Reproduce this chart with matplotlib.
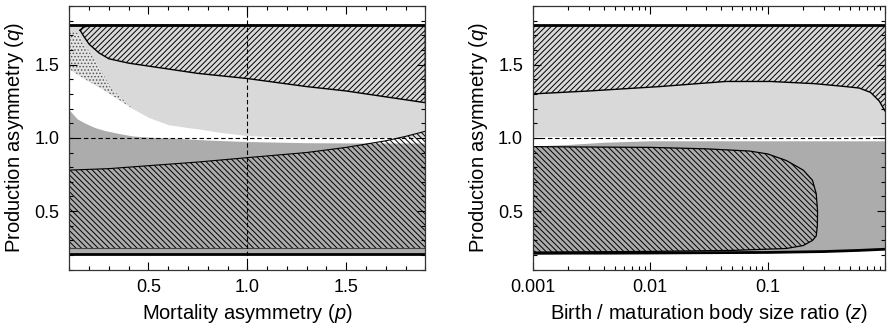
import matplotlib
matplotlib.use("Agg")
import matplotlib.pyplot as plt
from matplotlib.ticker import MultipleLocator, FormatStrFormatter, FixedLocator, FixedFormatter, LogLocator, NullFormatter

plt.rcParams['font.family'] = ['Liberation Sans', 'DejaVu Sans']
plt.rcParams['mathtext.fontset'] = 'custom'
plt.rcParams['mathtext.it'] = 'Liberation Sans:italic'
plt.rcParams['mathtext.rm'] = 'Liberation Sans'
plt.rcParams['hatch.linewidth'] = 0.7

LIGHT = '#d9d9d9'
DARK = '#acacac'

############################################################
# Left panel: mortality asymmetry p

# lower edge of the light grey region
p_light = [0.1, 0.18, 0.26, 0.34, 0.42, 0.5, 0.6, 0.7, 0.76, 0.85, 1.0, 1.15, 1.3, 1.6, 1.9]
q_light_bot = [1.47, 1.40, 1.34, 1.27, 1.20, 1.14, 1.09, 1.07, 1.06, 1.04, 1.015, 1.008, 1.005, 1.005, 1.005]

# upper edge of the dark grey region
p_dark = [0.1, 0.14, 0.18, 0.23, 0.28, 0.35, 0.42, 0.5, 0.6, 0.8, 1.0, 1.3, 1.6, 1.9]
q_dark_top = [1.19, 1.13, 1.10, 1.07, 1.05, 1.03, 1.013, 1.005, 1.0, 0.985, 0.975, 0.967, 0.965, 0.965]

# stippled wedge (right edge, top to bottom)
p_dot_edge = [0.1, 0.13, 0.155, 0.18, 0.245, 0.31, 0.42]
q_dot_edge = [1.72, 1.725, 1.70, 1.63, 1.50, 1.34, 1.20]

# upper hatched region: upper and lower edges from the cusp
p_up_top = [0.155, 0.17, 0.2, 0.25, 1.9]
q_up_top = [1.735, 1.755, 1.765, 1.768, 1.768]
p_up_bot = [0.155, 0.17, 0.2, 0.25, 0.3, 0.4, 0.5, 0.75, 1.0, 1.3, 1.5, 1.7, 1.9]
q_up_bot = [1.735, 1.70, 1.64, 1.58, 1.54, 1.51, 1.49, 1.44, 1.405, 1.35, 1.32, 1.28, 1.24]

# lower hatched region: upper edge
p_low = [0.1, 0.3, 0.5, 0.75, 1.0, 1.3, 1.5, 1.7, 1.8, 1.9]
q_low_top = [0.78, 0.79, 0.81, 0.835, 0.865, 0.90, 0.935, 0.98, 1.01, 1.045]

############################################################
# Right panel: birth / maturation body size ratio z

z_grid = [0.001, 0.002, 0.004, 0.01, 0.03, 0.1, 0.3, 0.6, 1.0]
q_r_light_bot = [1.01, 1.01, 1.01, 1.01, 1.01, 1.01, 1.01, 1.012, 1.015]
q_r_dark_top = [0.945, 0.955, 0.97, 0.98, 0.98, 0.98, 0.98, 0.98, 0.98]
q_r_base = [0.212, 0.213, 0.213, 0.214, 0.216, 0.218, 0.224, 0.232, 0.24]

# upper hatched region: lower edge
z_up = [0.001, 0.003, 0.012, 0.044, 0.105, 0.25, 0.46, 0.6, 0.75, 0.89, 0.95, 1.0]
q_r_up_bot = [1.30, 1.32, 1.35, 1.385, 1.385, 1.37, 1.35, 1.34, 1.31, 1.25, 1.21, 1.18]

# closed hatched blob (clockwise from top left)
z_blob = [0.001, 0.01, 0.03, 0.07, 0.1, 0.144, 0.2, 0.24, 0.258, 0.265, 0.264, 0.258,
          0.24, 0.2, 0.144, 0.05, 0.01, 0.001]
q_blob = [0.94, 0.935, 0.925, 0.91, 0.89, 0.845, 0.78, 0.71, 0.62, 0.5, 0.4, 0.33,
          0.30, 0.265, 0.245, 0.232, 0.225, 0.22]

q_top_line = 1.768

HATCH_UP = '//////'
HATCH_DN = '\\\\\\\\\\\\'

fig = plt.figure(figsize=(8.88, 3.33), dpi=100)
ax1 = fig.add_axes([0.078, 0.19, 0.401, 0.792])
ax2 = fig.add_axes([0.6, 0.19, 0.397, 0.792])

# ---- left panel
ax1.fill_between(p_dark, 0.21, q_dark_top, color=DARK, lw=0)
ax1.fill_between(p_light, q_light_bot, q_top_line, color=LIGHT, lw=0)

dot_x = p_dot_edge + p_light[4::-1]
dot_y = q_dot_edge + q_light_bot[4::-1]
ax1.fill(dot_x, dot_y, facecolor='#e4e4e4', edgecolor='#555555', hatch='.....', lw=0)

up_x = p_up_top + p_up_bot[::-1]
up_y = q_up_top + q_up_bot[::-1]
ax1.fill(up_x, up_y, facecolor='none', edgecolor='k', hatch=HATCH_UP, lw=0)
ax1.plot(up_x, up_y, color='k', lw=1)

ax1.fill_between(p_low, 0.245, q_low_top, facecolor='none', edgecolor='k', hatch=HATCH_DN, lw=0)
ax1.plot(p_low, q_low_top, color='k', lw=0.8)
ax1.axhline(0.245, color='#444444', lw=0.8)
ax1.axhline(0.21, color='k', lw=2)
ax1.axhline(q_top_line, color='k', lw=2)
ax1.axhline(1.0, color='k', lw=0.8, ls=(0, (4, 2.5)))
ax1.axvline(1.0, color='k', lw=0.8, ls=(0, (4, 2.5)))

ax1.set_xlim(0.1, 1.9)
ax1.set_ylim(0.1, 1.9)
ax1.xaxis.set_major_locator(MultipleLocator(0.5))
ax1.xaxis.set_minor_locator(MultipleLocator(0.1))
ax1.xaxis.set_major_formatter(FormatStrFormatter('%.1f'))
ax1.set_xlabel('Mortality asymmetry ($\\it{p}$)', fontsize=14.5)

# ---- right panel
ax2.set_xscale('log')
ax2.fill_between(z_grid, q_r_base, q_r_dark_top, color=DARK, lw=0)
ax2.fill_between(z_grid, q_r_light_bot, q_top_line, color=LIGHT, lw=0)
ax2.fill_between(z_up, q_r_up_bot, q_top_line, facecolor='none', edgecolor='k', hatch=HATCH_UP, lw=0)
ax2.plot(z_up, q_r_up_bot, color='k', lw=1)
ax2.fill(z_blob, q_blob, facecolor='none', edgecolor='k', hatch=HATCH_DN, lw=0.9)
ax2.plot(z_grid, q_r_base, color='k', lw=2)
ax2.axhline(q_top_line, color='k', lw=2)
ax2.axhline(1.0, color='k', lw=0.8, ls=(0, (4, 2.5)))

ax2.set_xlim(0.001, 1.0)
ax2.set_ylim(0.1, 1.9)
ax2.xaxis.set_major_locator(FixedLocator([0.001, 0.01, 0.1, 1.0]))
ax2.xaxis.set_major_formatter(FixedFormatter(['0.001', '0.01', '0.1', '']))
ax2.xaxis.set_minor_locator(LogLocator(base=10, subs=range(2, 10)))
ax2.xaxis.set_minor_formatter(NullFormatter())
ax2.set_xlabel('Birth / maturation body size ratio ($\\it{z}$)', fontsize=14.5)

for ax in (ax1, ax2):
    ax.yaxis.set_major_locator(MultipleLocator(0.5))
    ax.yaxis.set_minor_locator(MultipleLocator(0.1))
    ax.yaxis.set_major_formatter(FormatStrFormatter('%.1f'))
    ax.set_ylabel('Production asymmetry ($\\it{q}$)', fontsize=14.5, labelpad=6)
    ax.tick_params(which='both', direction='in', top=True, right=True, labelsize=13, width=0.8)
    ax.tick_params(which='major', length=6, pad=7)
    ax.tick_params(which='minor', length=3)
    for s in ax.spines.values():
        s.set_linewidth(0.9)
        s.set_color('#333333')

fig.savefig('out.png', dpi=100)
